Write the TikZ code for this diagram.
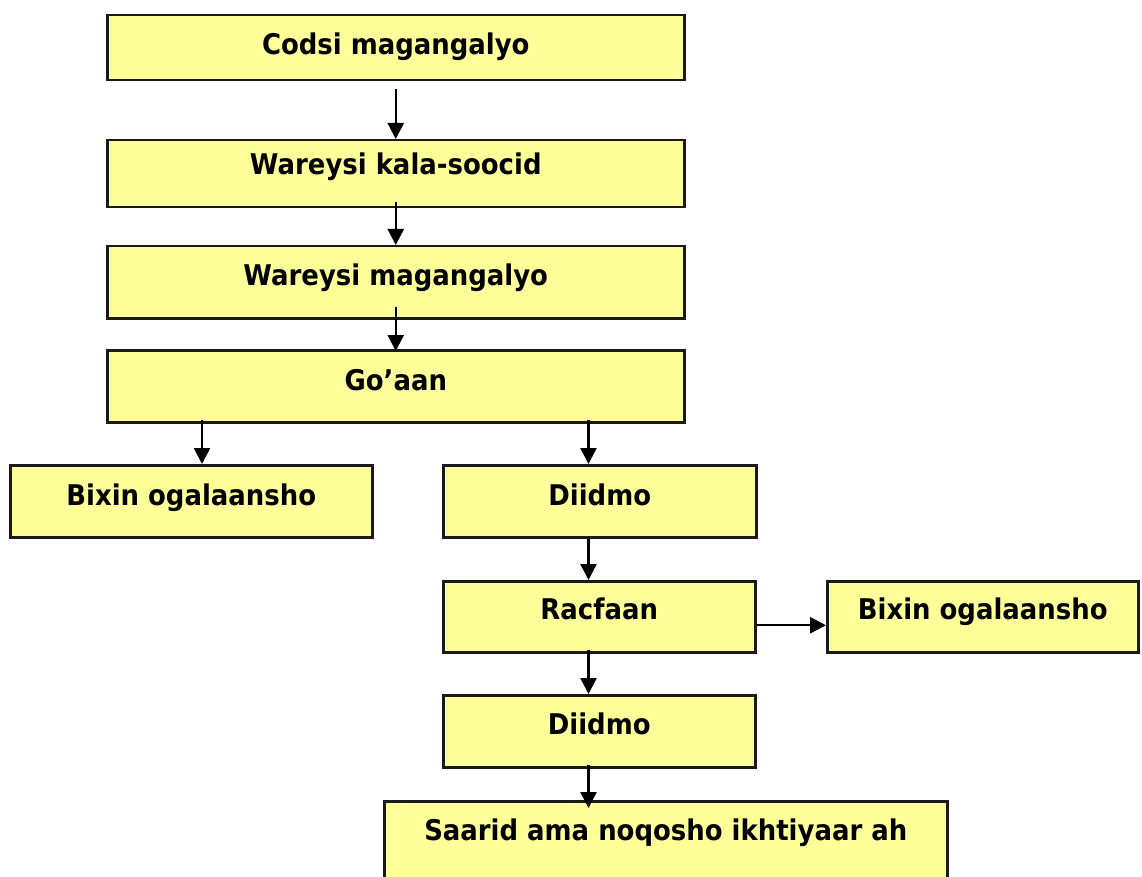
\documentclass[tikz,border=0pt]{standalone}
\usepackage{fontspec}
\setmainfont{DejaVu Sans}[FakeStretch=0.91]
\usetikzlibrary{arrows.meta}
\definecolor{boxfill}{HTML}{FFFF99}
\definecolor{boxline}{HTML}{1A1A1A}
\tikzset{
  box/.style={draw=boxline, fill=boxfill, line width=2.5pt, inner sep=0pt, anchor=north west},
  lbl/.style={anchor=base, inner sep=0pt, font=\fontsize{28.5pt}{32pt}\selectfont\bfseries},
  arr/.style={draw=black, line width=2.4pt, -{Triangle[length=16pt,width=16pt]}}
}
\begin{document}
\begin{tikzpicture}[x=1pt,y=-1pt]
\useasboundingbox (0,0) rectangle (1142,877);
\clip (0,0) rectangle (1142,877);
% boxes
\node[box, minimum width=577pt, minimum height=65pt] (b1) at (106,14) {};
\node[box, minimum width=577pt, minimum height=67pt] (b2) at (106,139) {};
\node[box, minimum width=577pt, minimum height=72pt] (b3) at (106,245) {};
\node[box, minimum width=577pt, minimum height=72pt] (b4) at (106,349) {};
\node[box, minimum width=362pt, minimum height=72pt] (b5) at (9,464) {};
\node[box, minimum width=313pt, minimum height=72pt] (b6) at (442,464) {};
\node[box, minimum width=312pt, minimum height=71pt] (b7) at (442,580) {};
\node[box, minimum width=311pt, minimum height=71pt] (b8) at (826,580) {};
\node[box, minimum width=312pt, minimum height=72pt] (b9) at (442,694) {};
\node[box, minimum width=563pt, minimum height=110pt] (b10) at (383,800) {};
% labels
\node[lbl] (t1) at ([yshift=-41pt]b1.north) {Codsi magangalyo};
\node[lbl] (t2) at ([yshift=-36pt]b2.north) {Wareysi kala-soocid};
\node[lbl] (t3) at ([yshift=-40pt]b3.north) {Wareysi magangalyo};
\node[lbl] (t4) at ([yshift=-41pt]b4.north) {Go’aan};
\node[lbl] (t5) at ([yshift=-41pt]b5.north) {Bixin ogalaansho};
\node[lbl] (t6) at ([yshift=-41pt]b6.north) {Diidmo};
\node[lbl] (t7) at ([yshift=-39pt]b7.north) {Racfaan};
\node[lbl] (t8) at ([yshift=-39pt]b8.north) {Bixin ogalaansho};
\node[lbl] (t9) at ([yshift=-40pt]b9.north) {Diidmo};
\node[lbl] (t10) at ([yshift=-40pt]b10.north) {Saarid ama noqosho ikhtiyaar ah};
% connectors
\draw[arr] ([yshift=-8pt]b1.south) -- (b2.north);
\draw[arr] ([yshift=6pt]b2.south) -- (b3.north);
\draw[arr] ([yshift=13pt]b3.south) -- ([yshift=-2pt]b4.north);
\coordinate (cl) at ([xshift=96pt]b4.south west);
\coordinate (cr) at ([xshift=-97pt]b4.south east);
\draw[arr] ([yshift=4pt]cl) -- (cl |- b5.north);
\draw[arr] ([yshift=4pt]cr) -- (cr |- b6.north);
\draw[arr] (cr |- b6.south) -- (cr |- b7.north);
\draw[arr] ([yshift=4pt]cr |- b7.south) -- (cr |- b9.north);
\draw[arr] ([yshift=4pt]cr |- b9.south) -- ([yshift=-8pt]cr |- b10.north);
\draw[arr] ([yshift=-8.5pt]b7.east) -- ([yshift=-8.5pt]b8.west);
\end{tikzpicture}
\end{document}
